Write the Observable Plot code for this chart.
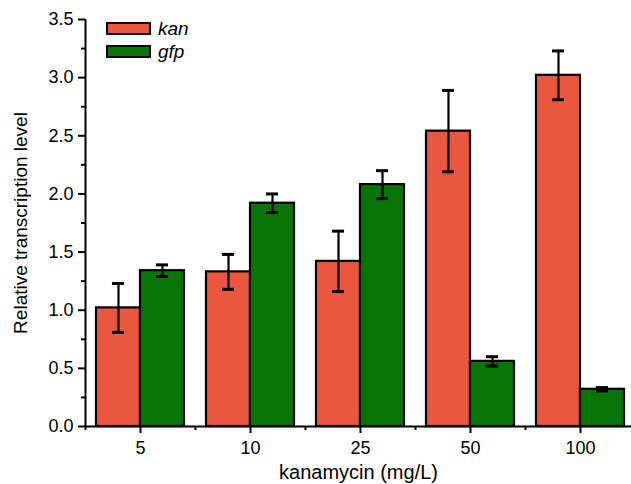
<!DOCTYPE html>
<html><head><meta charset="utf-8">
<script src="https://cdn.jsdelivr.net/npm/d3@7"></script>
<script src="https://cdn.jsdelivr.net/npm/@observablehq/plot@0.6"></script>
<style>
body{margin:0;background:#fff;}
#wrap{position:relative;width:631px;height:484px;font-family:"Liberation Sans",Arial,sans-serif;}
.legend{position:absolute;left:106px;top:17px;}
.item{display:flex;align-items:center;height:23px;}
.sw{width:41px;height:9px;border:2px solid #000;margin-right:7px;}
.lab{font-style:italic;font-size:19px;color:#000;}
</style></head><body><div id="wrap"></div>
<script>
const concentrations = ["5", "10", "25", "50", "100"];
const series = ["kan", "gfp"];
const kanMean = [1.02, 1.33, 1.42, 2.54, 3.02];
const kanErr  = [0.21, 0.15, 0.26, 0.35, 0.21];
const gfpMean = [1.34, 1.92, 2.08, 0.56, 0.32];
const gfpErr  = [0.05, 0.08, 0.12, 0.04, 0.015];
const colors = ["#E9573F", "#087508"];
const yTicks = [0, 0.5, 1.0, 1.5, 2.0, 2.5, 3.0, 3.5];
const yMinor = [0.25, 0.75, 1.25, 1.75, 2.25, 2.75, 3.25];

const means = [kanMean, gfpMean];
const errs = [kanErr, gfpErr];
const rows = [];
concentrations.forEach((c, i) => {
  series.forEach((s, j) => {
    const x1 = i + 0.1 + j * 0.4;
    rows.push({conc: c, series: s, x1, x2: x1 + 0.4, xc: x1 + 0.2,
      mean: means[j][i], lo: means[j][i] - errs[j][i], hi: means[j][i] + errs[j][i]});
  });
});
const xCenters = concentrations.map((c, i) => i + 0.5);
const xMinor = concentrations.map((c, i) => i);
const capHalf = 0.055;

const chart = Plot.plot({
  width: 631, height: 484,
  marginLeft: 85, marginRight: 0, marginTop: 19, marginBottom: 58,
  style: {fontFamily: '"Liberation Sans", Arial, sans-serif', background: "#fff"},
  x: {domain: [0, 5], range: [85, 635]},
  y: {domain: [0, 3.5]},
  color: {domain: series, range: colors},
  marks: [
    Plot.rectY(rows, {x1: "x1", x2: "x2", y1: 0, y2: "mean", fill: "series", stroke: "#000", strokeWidth: 2.2}),
    Plot.ruleX(rows, {x: "xc", y1: "lo", y2: "hi", stroke: "#000", strokeWidth: 2.2}),
    Plot.ruleY(rows, {y: "hi", x1: d => d.xc - capHalf, x2: d => d.xc + capHalf, stroke: "#000", strokeWidth: 3}),
    Plot.ruleY(rows, {y: "lo", x1: d => d.xc - capHalf, x2: d => d.xc + capHalf, stroke: "#000", strokeWidth: 3}),
    Plot.axisY({ticks: yTicks, tickSize: 7, tickPadding: 5, tickFormat: d3.format(".1f"), fontSize: 18, strokeWidth: 2,
      label: null}),
    Plot.axisY({ticks: [], tickSize: 0, fontSize: 19, label: "Relative transcription level", labelAnchor: "center", labelArrow: false, labelOffset: 72}),
    Plot.axisY({ticks: yMinor, tickSize: 4, text: null, strokeWidth: 2, label: null}),
    Plot.axisX({ticks: xCenters, tickSize: 7, tickPadding: 8, tickFormat: d => concentrations[Math.floor(d)], fontSize: 18, strokeWidth: 2,
      label: null}),
    Plot.axisX({ticks: [], tickSize: 0, fontSize: 20, label: "kanamycin (mg/L)", labelAnchor: "center", labelArrow: false, labelOffset: 52}),
    Plot.axisX({ticks: xMinor, tickSize: 4, text: null, strokeWidth: 2, label: null}),
    Plot.ruleY([0], {stroke: "#000", strokeWidth: 2}),
    Plot.ruleX([0], {y1: 0, y2: 3.5, stroke: "#000", strokeWidth: 2})
  ]
});
const wrap = document.getElementById("wrap");
wrap.appendChild(chart);
const leg = document.createElement("div");
leg.className = "legend";
series.forEach((s, j) => {
  const it = document.createElement("div");
  it.className = "item";
  it.innerHTML = `<div class="sw" style="background:${colors[j]}"></div><span class="lab">${s}</span>`;
  leg.appendChild(it);
});
wrap.appendChild(leg);
</script></body></html>
